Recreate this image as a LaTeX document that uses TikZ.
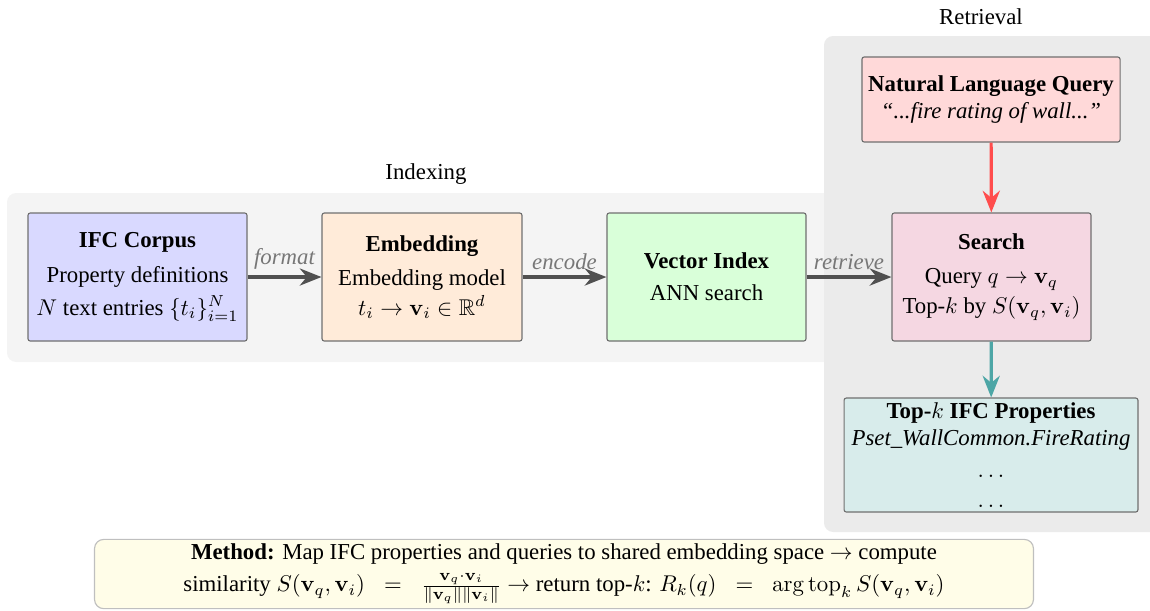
\documentclass[tikz,border=0pt]{standalone}
\usepackage{amsmath,amssymb}
\usepackage[no-math]{fontspec}
\setmainfont{Liberation Serif}
\usetikzlibrary{arrows.meta}
\definecolor{panelA}{HTML}{F4F4F4}
\definecolor{panelB}{HTML}{EBEBEB}
\definecolor{cIFC}{HTML}{D9D9FF}
\definecolor{cEmb}{HTML}{FFEBD9}
\definecolor{cVec}{HTML}{D9FFD9}
\definecolor{cSearch}{HTML}{F5D7E2}
\definecolor{cQuery}{HTML}{FFD9D9}
\definecolor{cTop}{HTML}{D8ECEB}
\definecolor{cMethod}{HTML}{FFFDE8}
\definecolor{edge}{HTML}{707070}
\definecolor{arrgray}{HTML}{505050}
\definecolor{arrred}{HTML}{FF4D4D}
\definecolor{arrteal}{HTML}{4DA6A6}
\definecolor{lblgray}{HTML}{777777}
\tikzset{
  panel/.style={rounded corners=4pt, draw=none},
  box/.style={draw=edge, line width=0.5pt, rounded corners=1pt, align=center, inner sep=2pt},
  flow/.style={-{Stealth[length=9.5pt,width=7.5pt]}, line width=1.4pt},
  flowlbl/.style={midway, above, font=\itshape, text=lblgray, inner sep=2.5pt},
}
\begin{document}
\begin{tikzpicture}[x=0.4386pt, y=-0.4386pt]
\useasboundingbox (0,0) rectangle (1150,610);
% panels
\fill[panelA, rounded corners=4pt] (7,193) rectangle (840,362);
\fill[panelB, rounded corners=4pt] (824,36) rectangle (1165,532);
\node (lblidx) at (426,174) {Indexing};
\node (lblret) at (981,17) {Retrieval};
% boxes
\node[box, fill=cIFC, minimum width=96.05pt, minimum height=56.14pt] (ifc) at (137.5,277)
  {\textbf{IFC Corpus}\\[3pt] Property definitions\\[2.5pt] $N$ text entries $\{t_i\}_{i=1}^{N}$};
\node[box, fill=cEmb, minimum width=87.7pt, minimum height=56.14pt] (emb) at (422,277)
  {\textbf{Embedding}\\[3pt] Embedding model\\[1pt] $t_i \rightarrow \mathbf{v}_i \in \mathbb{R}^d$};
\node[box, fill=cVec, minimum width=87.3pt, minimum height=56.14pt] (vec) at (706.5,277)
  {\textbf{Vector Index}\\[2pt] ANN search};
\node[box, fill=cSearch, minimum width=87.3pt, minimum height=56.14pt] (search) at (991.5,277)
  {\textbf{Search}\\[3pt] Query $q \rightarrow \mathbf{v}_q$\\[1pt] Top-$k$ by $S(\mathbf{v}_q,\mathbf{v}_i)$};
\node[box, fill=cQuery, minimum width=113.2pt, minimum height=37.3pt] (nlq) at (991,99.5)
  {\textbf{Natural Language Query}\\ \textit{``...fire rating of wall...''}};
\node[box, fill=cTop, minimum width=128.9pt, minimum height=50pt] (topk) at (991,455)
  {\textbf{Top-$k$ IFC Properties}\\ \textit{Pset\_WallCommon.FireRating}\\[2pt] $\ldots$\\[1pt] $\ldots$};
\node[box, draw=black!25, fill=cMethod, rounded corners=4pt, minimum width=411.8pt, minimum height=29.8pt] (method) at (564,574)
  {\textbf{Method:} Map IFC properties and queries to shared embedding space $\rightarrow$ compute\\[2pt]
   similarity $S(\mathbf{v}_q,\mathbf{v}_i) \;\;=\;\; \frac{\mathbf{v}_q\cdot\mathbf{v}_i}{\|\mathbf{v}_q\|\|\mathbf{v}_i\|}$ $\rightarrow$ return top-$k$: $R_k(q) \;\;=\;\; \arg\operatorname{top}_k S(\mathbf{v}_q,\mathbf{v}_i)$};
% connectors
\draw[flow, arrgray] (ifc) -- node[flowlbl] {format} (emb);
\draw[flow, arrgray] (emb) -- node[flowlbl] {encode} (vec);
\draw[flow, arrgray] (vec) -- node[flowlbl] {retrieve} (search);
\draw[flow, arrred] (nlq) -- (search);
\draw[flow, arrteal] (search) -- (topk);
\end{tikzpicture}
\end{document}
